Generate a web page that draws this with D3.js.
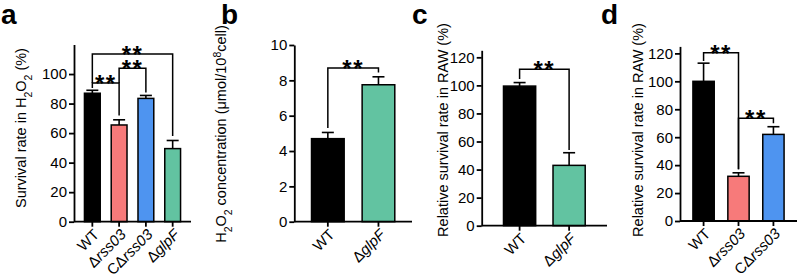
<!DOCTYPE html>
<html>
<head>
<meta charset="utf-8">
<script src="https://cdn.jsdelivr.net/npm/d3@7"></script>
<style>
body{margin:0;background:#fff;}
svg{display:block;font-family:"Liberation Sans",Arial,sans-serif;}
</style>
</head>
<body>
<svg id="chart" width="800" height="279"></svg>
<script>
// ---- data ----
const catsA = ["WT","Δrss03","CΔrss03","ΔglpF"];
const valsA = [87, 65.5, 83.5, 49.5];
const errA  = [89, 69, 85.5, 55];

const catsB = ["WT","ΔglpF"];
const valsB = [4.7, 7.75];
const errB  = [5.05, 8.2];

const catsC = ["WT","ΔglpF"];
const valsC = [99.5, 43];
const errC  = [102, 52];

const catsD = ["WT","Δrss03","CΔrss03"];
const valsD = [100, 32, 62];
const errD  = [113, 34.5, 67.5];

const ticksPct = [0,20,40,60,80,100];
const ticksPct120 = [0,20,40,60,80,100,120];
const ticksB = [0,2,4,6,8,10];

// significance brackets: [from, to, level, left drop, right drop]
const sigA = [[0,1,94,90.5,72],[1,2,104,94,87.5],[0,3,113.5,94,58]];
const sigB = [[0,1,8.7,5.3,8.45]];
const sigC = [[0,1,111.5,104.5,54]];
const sigD = [[0,1,120.5,114.5,37],[1,2,73.5,37,70]];

const colorOf = {"WT":"#000000","Δrss03":"#f77a7a","CΔrss03":"#4e94f0","ΔglpF":"#62c3a1"};

const svg = d3.select("#chart");

// label with italic gene name
function catLabel(sel, name){
  sel.text(null);
  if(name === "WT"){ sel.append("tspan").text("WT"); return; }
  const m = name.match(/^(C?Δ?)(.*)$/);
  sel.append("tspan").text(m[1]);
  sel.append("tspan").attr("font-style","italic").text(m[2]);
}

function panel(o){
  const g = svg.append("g");
  const x = d3.scaleBand().domain(o.cats).range([o.x0,o.x1])
    .paddingInner(o.pi).paddingOuter(o.po);
  const y = d3.scaleLinear().domain(o.dom).range([o.y0,o.y1]);

  // bars
  g.selectAll("rect.bar").data(o.cats).enter().append("rect")
    .attr("x",d=>x(d)).attr("width",x.bandwidth())
    .attr("y",(d,i)=>y(o.vals[i])).attr("height",(d,i)=>y(0)-y(o.vals[i]))
    .attr("fill",d=>colorOf[d]).attr("stroke","#000").attr("stroke-width",1.5);

  // error bars
  const cx = d=>x(d)+x.bandwidth()/2;
  g.selectAll("line.err").data(o.cats).enter().append("line")
    .attr("x1",cx).attr("x2",cx)
    .attr("y1",(d,i)=>y(o.vals[i])).attr("y2",(d,i)=>y(o.err[i]))
    .attr("stroke","#000").attr("stroke-width",1.6);
  g.selectAll("line.cap").data(o.cats).enter().append("line")
    .attr("x1",d=>cx(d)-6).attr("x2",d=>cx(d)+6)
    .attr("y1",(d,i)=>y(o.err[i])).attr("y2",(d,i)=>y(o.err[i]))
    .attr("stroke","#000").attr("stroke-width",1.6);

  // y axis
  const ya = g.append("g").attr("transform",`translate(${o.x0},0)`)
    .call(d3.axisLeft(y).tickValues(o.ticks).tickSize(5).tickSizeOuter(0).tickPadding(2));
  ya.attr("font-size",null).attr("font-family",null);
  ya.select(".domain").attr("stroke-width",1.8);
  ya.selectAll(".tick line").attr("stroke-width",1.8);
  ya.selectAll(".tick text").style("font-size","15px").attr("fill","#000");

  // x axis
  const xa = g.append("g").attr("transform",`translate(0,${o.y0})`)
    .call(d3.axisBottom(x).tickSize(5).tickSizeOuter(0));
  xa.attr("font-size",null).attr("font-family",null);
  xa.select(".domain").attr("stroke-width",1.8)
    .attr("d",`M${o.x0},0H${o.x1}`);
  xa.selectAll(".tick line").attr("stroke-width",1.8);
  xa.selectAll(".tick text")
    .style("font-size","15px").attr("fill","#000")
    .attr("text-anchor","end").attr("dy","0.35em")
    .attr("transform","translate(4,10) rotate(-45)")
    .attr("y",0)
    .each(function(d){ catLabel(d3.select(this), d); });

  // significance brackets
  o.sig.forEach(s=>{
    const xa1 = cx(o.cats[s[0]]), xa2 = cx(o.cats[s[1]]);
    g.append("path")
      .attr("d",`M${xa1},${y(s[3])}V${y(s[2])}H${xa2}V${y(s[4])}`)
      .attr("fill","none").attr("stroke","#000").attr("stroke-width",1.5);
    g.append("text")
      .attr("x",(xa1+xa2)/2).attr("y",y(s[2])+9)
      .attr("text-anchor","middle").attr("font-size",24).attr("font-weight","bold")
      .attr("letter-spacing",1.5)
      .text("**");
  });

  // y title
  const fs = o.tfs || 14.5;
  const t = g.append("text")
    .attr("transform",`translate(${o.tx},${o.ty}) rotate(-90)`)
    .attr("text-anchor","middle").style("font-size",fs+"px");
  o.title.forEach(p=>{
    const sp = t.append("tspan").text(p[0]);
    if(p[1]==="sub") sp.attr("baseline-shift","sub").style("font-size",(fs*0.72)+"px");
    if(p[1]==="sup") sp.attr("baseline-shift","super").style("font-size",(fs*0.72)+"px");
  });

  // panel letter
  svg.append("text").attr("x",o.lx).attr("y",24)
    .attr("font-size",28).attr("font-weight","bold").text(o.letter);
}

panel({cats:catsA, vals:valsA, err:errA, ticks:ticksPct, dom:[0,120],
  x0:74, x1:191, y0:221.7, y1:44.5, pi:0.41, po:0.39, sig:sigA,
  tx:26, ty:128, title:[["Survival rate in H"],["2","sub"],["O"],["2","sub"],[" (%)"]],
  letter:"a", lx:1});

panel({cats:catsB, vals:valsB, err:errB, ticks:ticksB, dom:[0,10],
  x0:294.3, x1:412, y0:221.7, y1:45, pi:0.355, po:0.34, sig:sigB,
  tx:226, ty:134, title:[["H"],["2","sub"],["O"],["2","sub"],[" concentration (μmol/10"],["8","sup"],["cell)"]],
  letter:"b", lx:221});

panel({cats:catsC, vals:valsC, err:errC, ticks:ticksPct120, dom:[0,125],
  x0:481.7, x1:607, y0:225.7, y1:50.3, pi:0.35, po:0.44, sig:sigC,
  tx:448, ty:130, title:[["Relative survival rate in RAW (%)"]],
  letter:"c", lx:412});

panel({cats:catsD, vals:valsD, err:errD, ticks:ticksPct120, dom:[0,125],
  x0:680, x1:797, y0:221, y1:46.4, pi:0.39, po:0.37, sig:sigD,
  tx:643, ty:130, title:[["Relative survival rate in RAW (%)"]],
  letter:"d", lx:601});
</script>
</body>
</html>
